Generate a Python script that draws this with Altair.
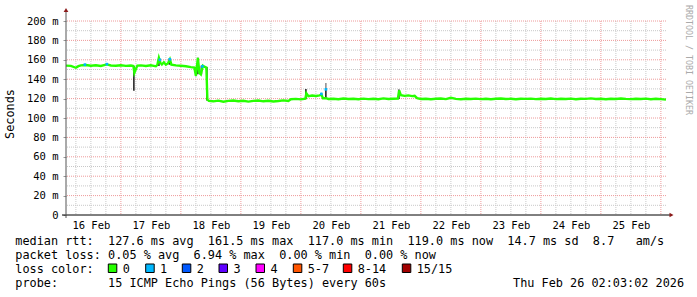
import altair as alt
import pandas as pd

# ---------------- data ----------------
# hours since 16 Feb 00:00 ; median rtt in ms
hours = [2.05, 4, 6, 7, 8, 10, 12, 14, 16, 18.4, 20, 22, 24, 26, 28, 29,
         29.4, 30, 30.6, 32, 34, 36, 38, 38.6, 39.2, 39.8, 40.4, 41.2, 42, 42.8,
         43.6, 44.2, 46, 48, 50, 52, 53.4, 54, 54.8, 55.4, 56, 56.8, 57.6, 58.2,
         58.6, 59.2, 61, 63, 65, 67, 69, 71, 73, 75, 77, 79, 81, 83, 85, 87, 89,
         91, 92, 94, 96, 97.8, 98.2, 99, 100.5, 102, 103.5, 104.2, 104.8, 106,
         107, 109, 111, 113, 115, 117, 119, 121, 123, 125, 127, 129, 131, 133,
         134.8, 135.3, 136, 137.5, 139, 140.5, 141.5, 142.5, 144, 146, 148, 150,
         152, 154, 156, 158, 160, 162, 164, 166, 168, 170, 172, 174, 176, 178,
         180, 182, 184, 186, 188, 190, 192, 194, 196, 198, 200, 202, 204, 206,
         208, 210, 212, 214, 216, 218, 220, 222, 224, 226, 228, 230, 232, 234,
         236, 238, 240, 242.05]
median_rtt = [154.0, 153.7, 151.8, 153.4, 154.2, 154.6, 153.9, 154.3, 153.6, 155.2,
              154.1, 153.8, 154.4, 153.7, 154.1, 153.6,
              146.5, 150.5, 154.0, 154.2, 153.6, 154.4, 153.3, 154.8, 162.0, 157.0,
              155.2, 157.5, 155.0, 156.2, 160.5, 155.0, 154.2, 153.8, 153.4, 152.4,
              152.0, 143.5, 162.0, 146.5, 145.0, 154.0, 152.6, 152.0,
              119.0, 117.6, 117.2, 117.9, 116.8, 117.6, 118.1, 117.3, 117.7, 116.9,
              117.6, 118.0, 117.2, 117.8, 117.0, 117.5, 118.2,
              117.6, 119.3, 119.7, 119.2, 119.8, 125.5, 122.6, 123.2, 122.7, 123.3,
              124.5, 120.4, 120.5,
              119.6, 119.9, 119.4, 120.1, 119.6, 119.8, 119.3, 120.0, 119.5, 119.9,
              119.4, 120.2, 119.6, 119.8,
              120.0, 128.5, 123.5, 122.8, 123.3, 122.6, 122.9, 120.4, 119.6, 119.9,
              119.4, 119.8, 120.1, 119.5, 120.9, 119.7, 119.4, 119.9, 119.6, 120.0,
              119.5, 119.8, 119.3, 119.9, 120.1, 119.6, 119.8, 119.4, 119.9, 119.7,
              120.0, 119.5, 119.8, 119.6, 120.1, 119.5, 119.8, 119.6, 120.0, 119.4,
              119.9, 119.7, 120.2, 119.6, 119.8, 119.4, 119.9, 119.6, 120.1, 119.7,
              119.5, 119.9, 119.6, 120.0, 119.4, 119.8, 119.5, 119.0]

# dark "smoke" spikes (hour, low, high)
smoke_hours = [29.2, 39.2, 43.4, 54.0, 54.8, 56.2, 58.4, 98.0, 106.0, 135.2]
smoke_low = [128.0, 153.5, 155.0, 143.0, 145.0, 145.0, 118.0, 119.5, 120.0, 119.5]
smoke_high = [153.5, 163.0, 161.5, 152.5, 162.0, 154.0, 152.5, 130.0, 131.0, 129.5]
smoke_light_hours = [106.0]
smoke_light_low = [131.0]
smoke_light_high = [136.0]

# samples with 1/15 loss (blue)
loss1_hours = [9.6, 18.4, 39.6, 43.6, 56.6, 104.2, 106.0]
loss1_rtt = [155.0, 155.5, 160.0, 160.5, 153.2, 124.8, 129.5]

day_labels = ["16 Feb", "17 Feb", "18 Feb", "19 Feb", "20 Feb",
              "21 Feb", "22 Feb", "23 Feb", "24 Feb", "25 Feb"]
label_hours = [12, 36, 60, 84, 108, 132, 156, 180, 204, 228]
y_ticks = [0, 20, 40, 60, 80, 100, 120, 140, 160, 180, 200]

rtt_stats = [127.6, 161.5, 117.0, 119.0, 14.7, 8.7]
loss_stats = [0.05, 6.94, 0.00, 0.00]
loss_labels = ["0", "1", "2", "3", "4", "5-7", "8-14", "15/15"]
loss_colors = ["#26ff00", "#00b8ff", "#0059ff", "#5e00ff", "#ff00ff",
               "#ff5500", "#ff0000", "#a10000"]
probe_text = "15 ICMP Echo Pings (56 Bytes) every 60s"
timestamp_text = "Thu Feb 26 02:03:02 2026"
y_title = "Seconds"
watermark = "RRDTOOL / TOBI OETIKER"

# ---------------- layout ----------------
LEFT, TOP, W, H = 66, 21, 600, 194
TOTAL_W, TOTAL_H = 697, 297
MONO = "DejaVu Sans Mono"
FS = 11.85
X0, X1 = 2.05, 242.05
NB = "\u00a0"


def ax(v):
    return v - LEFT


def ay(v):
    return v - TOP


def keep_spaces(s):
    return s.replace(" ", NB)


xs = alt.Scale(domain=[X0, X1], nice=False, zero=False)
ys = alt.Scale(domain=[0, 200], nice=False, zero=False)

label_arr = "[" + ",".join("'%s'" % d for d in day_labels) + "]"
x_axis = alt.Axis(values=label_hours,
                  labelExpr=label_arr + "[round((datum.value - %d) / 24)]" % label_hours[0],
                  title=None, grid=False, domain=False, ticks=False,
                  labelPadding=5, labelFont=MONO, labelFontSize=10.5,
                  labelColor="#000000", labelAngle=0, labelFlush=False,
                  labelOverlap=False)
y_axis = alt.Axis(values=y_ticks,
                  labelExpr="datum.value == 0 ? '0" + NB + "' : datum.value + '" + NB + "m'",
                  title=None, grid=False, domain=False, ticks=True, tickSize=3,
                  tickColor="#999999", labelPadding=5, labelFont=MONO,
                  labelFontSize=10.5, labelColor="#000000", labelFlush=False,
                  labelOverlap=False)


def X(field):
    return alt.X(field, scale=xs, axis=x_axis)


def Y(field):
    return alt.Y(field, scale=ys, axis=y_axis)


minor_x = [h for h in range(6, 242, 6) if h % 24]
major_x = list(range(24, 242, 24))
minor_y = [v for v in range(10, 200, 10) if v % 20]
major_y = list(range(20, 201, 20))

layers = []


def vrules(vals, color):
    return alt.Chart(pd.DataFrame({"h": vals})).mark_rule(
        color=color, strokeWidth=1, strokeDash=[1, 1]
    ).encode(x=X("h:Q"))


def hrules(vals, color):
    return alt.Chart(pd.DataFrame({"v": vals})).mark_rule(
        color=color, strokeWidth=1, strokeDash=[1, 1]
    ).encode(y=Y("v:Q"))


layers += [vrules(minor_x, "#c8c8c8"), hrules(minor_y, "#c8c8c8"),
           vrules(major_x, "#ee9a9a"), hrules(major_y, "#ee9a9a")]

smoke_df = pd.DataFrame({"h": smoke_hours, "lo": smoke_low, "hi": smoke_high})
layers.append(alt.Chart(smoke_df).mark_rule(color="#1a1a1a", strokeWidth=1.5).encode(
    x=X("h:Q"), y=Y("lo:Q"), y2="hi:Q"))
smoke2_df = pd.DataFrame({"h": smoke_light_hours, "lo": smoke_light_low, "hi": smoke_light_high})
layers.append(alt.Chart(smoke2_df).mark_rule(color="#8a8a8a", strokeWidth=1.5).encode(
    x=X("h:Q"), y=Y("lo:Q"), y2="hi:Q"))

line_df = pd.DataFrame({"h": hours, "v": median_rtt})
layers.append(alt.Chart(line_df).mark_line(color=loss_colors[0], strokeWidth=2.4,
                                           interpolate="linear").encode(
    x=X("h:Q"), y=Y("v:Q")))

l1_df = pd.DataFrame({"h": loss1_hours, "v": loss1_rtt})
layers.append(alt.Chart(l1_df).mark_square(color=loss_colors[1], size=7, opacity=1).encode(
    x=X("h:Q"), y=Y("v:Q")))

one = pd.DataFrame({"a": [0]})
# axes lines and arrows
layers.append(alt.Chart(one).mark_rule(color="#000000", strokeWidth=1).encode(
    x=alt.value(ax(62)), x2=alt.value(ax(670)), y=alt.value(ay(215))))
layers.append(alt.Chart(one).mark_rule(color="#555555", strokeWidth=1).encode(
    x=alt.value(0), y=alt.value(ay(11)), y2=alt.value(ay(218))))
layers.append(alt.Chart(one).mark_point(shape="triangle-up", filled=True, size=22,
                                        color="#8b1a1a", opacity=1).encode(
    x=alt.value(0), y=alt.value(ay(10))))
layers.append(alt.Chart(one).mark_point(shape="triangle-right", filled=True, size=22,
                                        color="#8b1a1a", opacity=1).encode(
    x=alt.value(ax(671.5)), y=alt.value(ay(215))))


def text_layer(txt, x, y, size=FS, color="#000000", angle=0, align="left",
               baseline="alphabetic"):
    kw = dict(font=MONO, fontSize=size, color=color, align=align, baseline=baseline)
    if angle:
        kw["angle"] = angle
    return alt.Chart(pd.DataFrame({"t": [keep_spaces(txt)]})).mark_text(**kw).encode(
        text="t:N", x=alt.value(x), y=alt.value(y))


line1 = ("median rtt:  %.1f ms avg  %.1f ms max  %.1f ms min  %.1f ms now  "
         "%.1f ms sd  %.1f   am/s" % tuple(rtt_stats))
line2 = ("packet loss: %.2f %% avg  %.2f %% max  %.2f %% min  %.2f %% now"
         % tuple(loss_stats))
TX = 15.3
layers.append(text_layer(line1, ax(TX), ay(244.5)))
layers.append(text_layer(line2, ax(TX), ay(258.5)))
layers.append(text_layer("loss color:", ax(TX), ay(272.5)))
layers.append(text_layer("probe:       " + probe_text, ax(TX), ay(286.5)))
layers.append(text_layer(timestamp_text, ax(513), ay(286.5)))

sq_x = [108.3, 145.7, 182.3, 219.0, 256.0, 293.3, 343.3, 402.3]
for lab, col, sx in zip(loss_labels, loss_colors, sq_x):
    layers.append(alt.Chart(one).mark_rect(fill=col, stroke="#000000", strokeWidth=1).encode(
        x=alt.value(ax(sx)), x2=alt.value(ax(sx + 8.5)),
        y=alt.value(ay(264)), y2=alt.value(ay(272.5))))
    layers.append(text_layer(lab, ax(sx + 14.4), ay(272.5)))

layers.append(text_layer(y_title, ax(10), ay(114), angle=270, align="center",
                         baseline="middle"))
layers.append(text_layer(watermark, ax(688), ay(60), size=8.3, color="#aaaaaa",
                         angle=90, align="center", baseline="middle"))

chart = alt.layer(*layers).properties(
    width=W, height=H,
    padding={"left": LEFT, "top": TOP, "right": TOTAL_W - LEFT - W,
             "bottom": TOTAL_H - TOP - H},
    autosize="none",
    background="#ffffff",
).configure_view(stroke=None)

chart.save("out.html", embed_options={"renderer": "svg", "actions": False})
